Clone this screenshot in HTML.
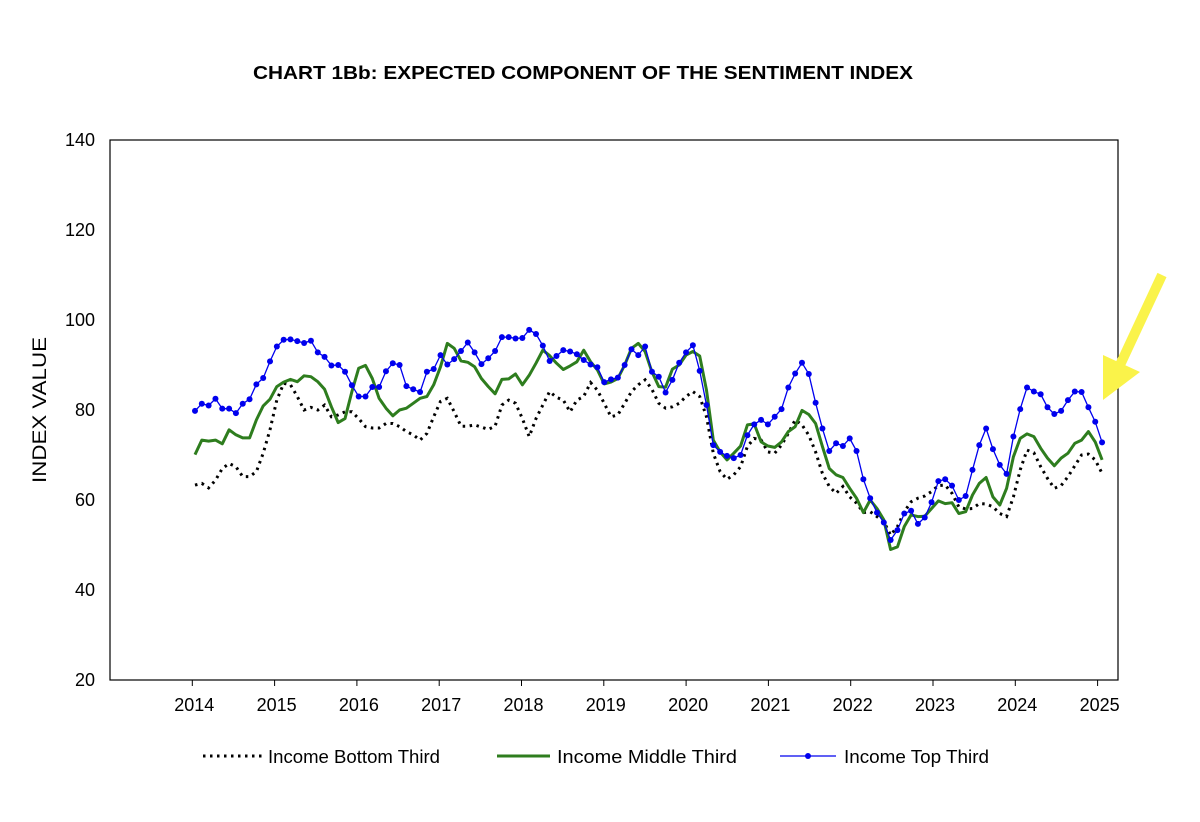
<!DOCTYPE html>
<html><head><meta charset="utf-8"><style>
html,body{margin:0;padding:0;background:#fff;}
svg{display:block;font-family:"Liberation Sans",Arial,sans-serif;}
</style></head><body>
<svg id="chart" width="1200" height="822" viewBox="0 0 1200 822">
<text x="583" y="79" text-anchor="middle" font-size="18" font-weight="bold" textLength="660" lengthAdjust="spacingAndGlyphs">CHART 1Bb: EXPECTED COMPONENT OF THE SENTIMENT INDEX</text>
<text transform="translate(46,410) rotate(-90)" text-anchor="middle" font-size="19" textLength="146" lengthAdjust="spacingAndGlyphs">INDEX VALUE</text>
<rect x="110" y="140" width="1008" height="540" fill="none" stroke="#000" stroke-width="1.2"/>
<g id="yaxis"></g>
<g id="xaxis"></g>
<g id="series"></g>
<g>
<g>
<line x1="203" y1="756" x2="262" y2="756" stroke="#000" stroke-width="3" stroke-dasharray="2.5,4.5"/>
<text x="268" y="763" font-size="18.5" textLength="172" lengthAdjust="spacingAndGlyphs">Income Bottom Third</text></g>
<g>
<line x1="497" y1="756" x2="550" y2="756" stroke="#2e7d1e" stroke-width="3"/>
<text x="557" y="763" font-size="18.5" textLength="180" lengthAdjust="spacingAndGlyphs">Income Middle Third</text></g>
<g>
<line x1="780" y1="756" x2="836" y2="756" stroke="#0000ee" stroke-width="1.2"/>
<circle cx="808" cy="756" r="3" fill="#0000ee"/>
<text x="844" y="763" font-size="18.5" textLength="145" lengthAdjust="spacingAndGlyphs">Income Top Third</text></g>
</g>
<g>
<line x1="1162" y1="275" x2="1120" y2="365" stroke="#faf34a" stroke-width="10"/>
<polygon points="1103,355 1140,372 1103,400" fill="#faf34a"/>
</g>
</svg>
<script>
const yTicks=[20,40,60,80,100,120,140];
const years=["2014","2015","2016","2017","2018","2019","2020","2021","2022","2023","2024","2025"];
const bottomThird=[63.3,63.7,62.7,64.4,67.0,68.1,67.4,65.2,65.2,66.3,70.4,75.6,82.2,85.9,85.6,83.0,80.0,80.6,80.0,81.1,78.5,78.9,79.6,79.6,78.1,76.3,76.0,76.0,77.0,77.0,76.3,75.2,74.5,73.3,74.8,78.5,81.9,82.6,79.6,76.4,76.4,76.7,76.2,75.7,76.4,81.1,82.2,81.5,78.1,74.1,78.1,81.1,84.1,82.8,82.2,79.6,82.2,83.0,86.1,84.4,81.5,78.5,78.9,81.5,84.1,85.6,86.7,84.6,81.5,80.4,80.7,81.5,83.0,84.1,83.0,78.5,70.4,66.3,64.6,65.6,67.4,71.9,73.7,73.3,70.7,70.4,72.2,74.8,77.8,76.7,74.4,70.7,65.9,63.0,61.5,63.0,60.7,59.3,57.2,57.4,56.3,55.2,52.2,54.1,57.4,59.6,60.4,60.9,61.9,63.2,63.3,61.5,58.5,58.0,58.1,59.2,59.1,58.5,57.0,56.3,60.7,66.7,71.1,70.5,67.4,64.8,62.6,63.2,65.2,67.6,70.0,70.2,68.9,65.9];
const middleThird=[70.1,73.3,73.1,73.3,72.5,75.6,74.5,73.8,73.8,77.8,80.9,82.4,85.2,86.2,86.8,86.3,87.6,87.4,86.3,84.6,80.7,77.2,78.1,84.1,89.3,89.9,87.0,82.6,80.4,78.7,80.0,80.4,81.5,82.6,83.0,85.6,89.6,94.8,93.7,90.9,90.6,89.6,87.0,85.2,83.6,86.8,86.9,88.0,85.6,87.7,90.4,93.3,92.1,90.4,89.0,89.8,90.7,93.3,90.7,88.9,85.8,86.2,87.0,90.0,93.7,94.8,93.0,88.5,85.2,85.1,89.1,90.0,92.2,93.0,92.0,84.4,73.3,70.7,68.9,70.4,72.0,76.7,76.9,72.9,72.0,71.7,72.9,75.2,76.3,79.9,79.0,77.0,71.9,67.0,65.6,65.0,62.6,60.4,57.2,60.0,58.1,55.6,49.0,49.6,54.1,56.7,56.3,56.4,58.1,59.8,59.2,59.4,57.0,57.4,61.1,63.7,65.0,60.7,58.9,62.6,69.6,73.7,74.7,74.1,71.5,69.3,67.6,69.3,70.4,72.6,73.3,75.2,72.9,68.9];
const topThird=[79.8,81.4,81.0,82.5,80.3,80.3,79.3,81.4,82.4,85.7,87.1,90.8,94.1,95.6,95.7,95.3,94.9,95.4,92.8,91.8,89.9,90.0,88.5,85.5,83.0,83.0,85.1,85.1,88.6,90.4,90.0,85.3,84.6,84.0,88.5,89.1,92.2,90.1,91.3,93.1,95.0,92.8,90.2,91.5,93.1,96.2,96.2,95.9,96.0,97.8,96.9,94.3,90.9,92.0,93.3,93.0,92.4,91.1,90.1,89.5,86.2,86.8,87.2,90.0,93.5,92.2,94.1,88.5,87.4,83.9,86.7,90.5,92.8,94.4,88.7,81.1,72.2,70.7,69.8,69.3,70.0,74.4,76.8,77.8,76.8,78.5,80.2,85.0,88.1,90.5,88.0,81.6,75.9,70.9,72.6,72.0,73.7,70.9,64.6,60.4,57.2,55.0,51.1,53.3,57.0,57.6,54.7,56.1,59.5,64.2,64.6,63.2,60.0,60.9,66.7,72.2,75.9,71.3,67.8,65.8,74.1,80.2,85.0,84.1,83.5,80.6,79.1,79.8,82.2,84.1,84.0,80.6,77.4,72.8];

const NS='http://www.w3.org/2000/svg';
function yS(v){return 680-(v-20)*4.5;}
function xS(i){return 195+i*6.82;}
function yearX(k){return 192.3+k*82.3;}
function mk(tag,attrs,parent){const e=document.createElementNS(NS,tag);for(const k in attrs)e.setAttribute(k,attrs[k]);parent.appendChild(e);return e;}
const ya=document.getElementById('yaxis');
yTicks.forEach(v=>{
  const t=mk('text',{x:95,y:yS(v)+6,'text-anchor':'end','font-size':18},ya);
  t.textContent=v;
  
  
});
const xa=document.getElementById('xaxis');
years.forEach((y,k)=>{
  const tk=mk('line',{x1:yearX(k),y1:680,x2:yearX(k),y2:686,stroke:'#000','stroke-width':1},xa);
  
  
  const t=mk('text',{x:yearX(k)+2,y:711,'text-anchor':'middle','font-size':18},xa);
  t.textContent=y;
  
  
});
const sg=document.getElementById('series');
function pts(a){return a.map((v,i)=>xS(i).toFixed(1)+','+yS(v).toFixed(1)).join(' ');}
const lb=mk('polyline',{points:pts(bottomThird),fill:'none',stroke:'#000','stroke-width':3,'stroke-dasharray':'2.5,4.5','stroke-linecap':'butt'},sg);


const lm=mk('polyline',{points:pts(middleThird),fill:'none',stroke:'#2e7d1e','stroke-width':3,'stroke-linejoin':'round'},sg);


const lt=mk('polyline',{points:pts(topThird),fill:'none',stroke:'#0000ee','stroke-width':1.3},sg);


topThird.forEach((v,i)=>{
  const c=mk('circle',{cx:xS(i),cy:yS(v),r:3,fill:'#0000ee'},sg);
  
  
});
</script>
</body></html>
